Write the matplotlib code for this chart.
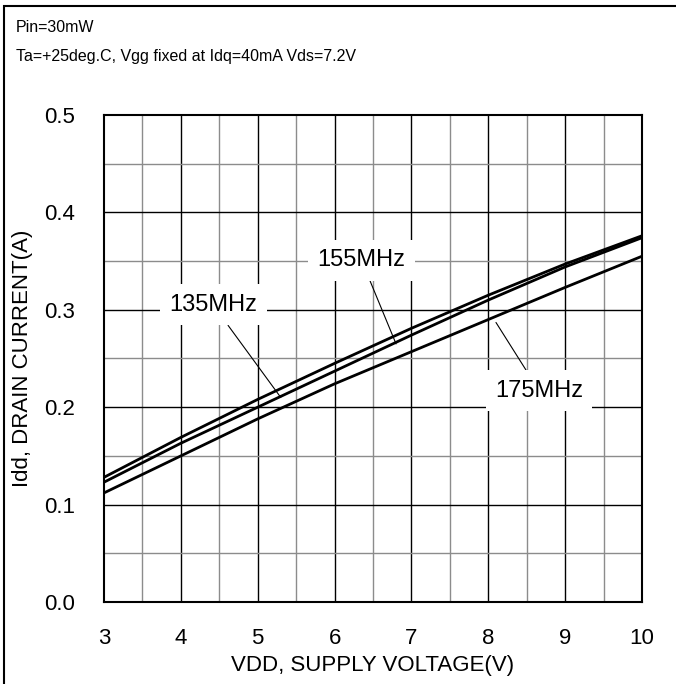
import matplotlib
matplotlib.use("Agg")
import matplotlib.pyplot as plt
from matplotlib.patches import Rectangle
import numpy as np

plt.rcParams["font.family"] = ["Liberation Sans", "DejaVu Sans"]

# supply voltage (V)
vdd = [3, 4, 5, 6, 7, 8, 9, 10]
# drain current (A) per frequency
idd_135 = [0.128, 0.169, 0.208, 0.245, 0.281, 0.315, 0.347, 0.376]
idd_155 = [0.123, 0.163, 0.200, 0.237, 0.274, 0.310, 0.344, 0.374]
idd_175 = [0.112, 0.150, 0.188, 0.224, 0.257, 0.290, 0.323, 0.355]

x_ticks = [3, 4, 5, 6, 7, 8, 9, 10]
y_ticks = [0.0, 0.1, 0.2, 0.3, 0.4, 0.5]

fig = plt.figure(figsize=(6.76, 6.84), dpi=100)
ax = fig.add_axes([104 / 676, 1 - 602 / 684, (642 - 104) / 676, (602 - 115) / 684])

# outer frame (only left and top edges fall inside the image)
fig.patches.append(Rectangle((4 / 676, -0.05), 1.0, 1.05 - 6 / 684,
                             transform=fig.transFigure, fill=False,
                             edgecolor="black", linewidth=1.5))

# grid
for v in np.arange(3.5, 10, 1.0):
    ax.axvline(v, color="#8c8c8c", linewidth=1.0, zorder=1)
for v in range(4, 10):
    ax.axvline(v, color="black", linewidth=1.0, zorder=1)
for v in np.arange(0.05, 0.5, 0.1):
    ax.axhline(v, color="#8c8c8c", linewidth=1.0, zorder=1)
for v in [0.1, 0.2, 0.3, 0.4]:
    ax.axhline(v, color="black", linewidth=1.0, zorder=1)

for ys in (idd_135, idd_155, idd_175):
    ax.plot(vdd, ys, color="black", linewidth=2.0, zorder=3)

ax.set_xlim(3, 10)
ax.set_ylim(0, 0.5)
ax.set_xticks(x_ticks)
ax.set_yticks(y_ticks)
ax.set_yticklabels([f"{v:.1f}" for v in y_ticks])
ax.tick_params(length=0, labelsize=16)
ax.tick_params(axis="x", pad=19)
ax.tick_params(axis="y", pad=21)
for s in ax.spines.values():
    s.set_linewidth(1.5)

ax.set_xlabel("VDD, SUPPLY VOLTAGE(V)", fontsize=16, labelpad=4)
ax.set_ylabel("Idd, DRAIN CURRENT(A)", fontsize=16, labelpad=8)

box = dict(boxstyle="square,pad=0.4", facecolor="white", edgecolor="none")
arrow = dict(arrowstyle="-", color="black", linewidth=0.8, shrinkA=0, shrinkB=0)
ax.annotate("135MHz", xy=(5.3, 0.21), xytext=(4.42, 0.305), fontsize=17,
            ha="center", va="center", bbox=box, arrowprops=arrow, zorder=5)
ax.annotate("155MHz", xy=(6.8, 0.265), xytext=(6.35, 0.351), fontsize=17,
            ha="center", va="center", bbox=box, arrowprops=arrow, zorder=5)
ax.annotate("175MHz", xy=(8.1, 0.287), xytext=(8.66, 0.217), fontsize=17,
            ha="center", va="center", bbox=box, arrowprops=arrow, zorder=5)

fig.text(16 / 676, 1 - 28 / 684, "Pin=30mW", fontsize=11.5, va="center")
fig.text(16 / 676, 1 - 57 / 684, "Ta=+25deg.C, Vgg fixed at Idq=40mA Vds=7.2V",
         fontsize=11.5, va="center")

fig.savefig("out.png", dpi=100)
